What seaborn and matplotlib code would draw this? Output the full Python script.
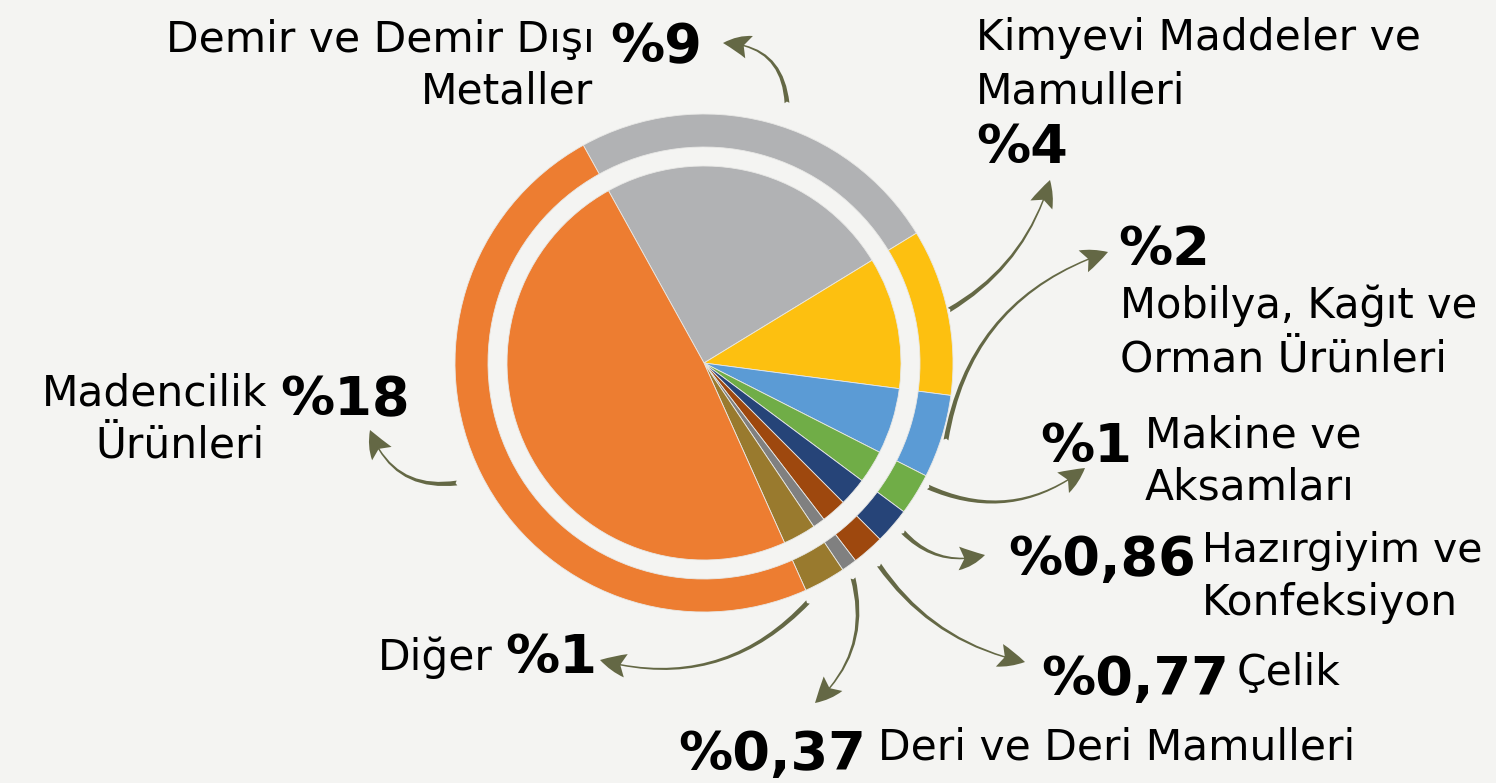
import matplotlib
matplotlib.use("Agg")
import matplotlib.pyplot as plt
import seaborn as sns
from matplotlib.patches import FancyArrowPatch

# ---------------- data ----------------
sectors = ["Demir ve Demir Dışı Metaller", "Kimyevi Maddeler ve Mamulleri",
           "Mobilya, Kağıt ve Orman Ürünleri", "Makine ve Aksamları",
           "Hazırgiyim ve Konfeksiyon", "Çelik", "Deri ve Deri Mamulleri",
           "Diğer", "Madencilik Ürünleri"]
shares = [9, 4, 2, 1, 0.86, 0.77, 0.37, 1, 18]
share_labels = ["%9", "%4", "%2", "%1", "%0,86", "%0,77", "%0,37", "%1", "%18"]
colors = ["#B1B2B4", "#FDC010", "#5B9BD5", "#70AD47", "#264478",
          "#9E480E", "#808080", "#997A2E", "#ED7D31"]

BG = "#F4F4F2"
ARROW = "#646845"

sns.set_theme(style="white")
plt.rcParams["font.family"] = ["DejaVu Sans"]
palette = sns.color_palette(colors)

W, H = 1496, 783
fig = plt.figure(figsize=(W / 100, H / 100), dpi=100, facecolor=BG)
ax = fig.add_axes([0, 0, 1, 1])
ax.set_facecolor(BG)

def Y(y):
    return H - y

cx, cy = 704, Y(363)
start = 119
ax.pie(shares, colors=palette, startangle=start, counterclock=False,
       radius=249, center=(cx, cy),
       wedgeprops=dict(width=33, linewidth=0.6, edgecolor="#E8E8E6"))
ax.pie(shares, colors=palette, startangle=start, counterclock=False,
       radius=197, center=(cx, cy),
       wedgeprops=dict(linewidth=0.6, edgecolor="#E8E8E6"))
ax.set_xlim(0, W)
ax.set_ylim(0, H)
ax.set_aspect("equal")
ax.axis("off")

REG = 30.5
BOLD = 39

def reg(x, y, s, ha="left", size=REG):
    ax.text(x, Y(y), s, fontsize=size, ha=ha, va="baseline", color="#000000")

def bold(x, y, s, ha="left"):
    ax.text(x, Y(y), s, fontsize=BOLD, fontweight="bold", ha=ha,
            va="baseline", color="#000000")

# Demir
reg(595, 52, "Demir ve Demir Dışı", ha="right")
reg(593, 103, "Metaller", ha="right")
bold(610, 62, share_labels[0])
# Kimyevi
reg(976, 50, "Kimyevi Maddeler ve")
reg(976, 103, "Mamulleri")
bold(976, 163, share_labels[1])
# Mobilya
bold(1118, 265, share_labels[2])
reg(1120, 318, "Mobilya, Kağıt ve", size=30)
reg(1120, 372, "Orman Ürünleri")
# Makine
bold(1132, 462, share_labels[3], ha="right")
reg(1145, 447, "Makine ve")
reg(1145, 500, "Aksamları")
# Hazirgiyim
bold(1196, 575, share_labels[4], ha="right")
reg(1202, 562, "Hazırgiyim ve", size=29.5)
reg(1202, 615, "Konfeksiyon")
# Celik
bold(1229, 695, share_labels[5], ha="right")
reg(1237, 685, "Çelik")
# Deri
bold(866, 770, share_labels[6], ha="right")
reg(878, 760, "Deri ve Deri Mamulleri")
# Diger
reg(493, 670, "Diğer", ha="right")
bold(505, 673, share_labels[7])
# Madencilik
reg(267, 405, "Madencilik", ha="right")
reg(265, 458, "Ürünleri", ha="right")
bold(280, 415, share_labels[8])

# arrows: (tail, head, rad)
arrows = [
    ((787, 103), (723, 43), 0.45),
    ((949, 310), (1050, 180), 0.2),
    ((946, 440), (1108, 252), -0.3),
    ((928, 487), (1085, 468), 0.3),
    ((903, 532), (985, 555), 0.3),
    ((879, 565), (1025, 662), 0.2),
    ((853, 578), (815, 703), -0.3),
    ((808, 602), (600, 660), -0.3),
    ((457, 483), (370, 430), -0.4),
]
for (t, h, r) in arrows:
    a = FancyArrowPatch((t[0], Y(t[1])), (h[0], Y(h[1])),
                        connectionstyle=f"arc3,rad={r}",
                        arrowstyle="fancy,head_length=19,head_width=17,tail_width=3.5",
                        mutation_scale=1, color=ARROW, shrinkA=0, shrinkB=0,
                        linewidth=0)
    ax.add_patch(a)

fig.savefig("out.png", dpi=100, facecolor=BG)
